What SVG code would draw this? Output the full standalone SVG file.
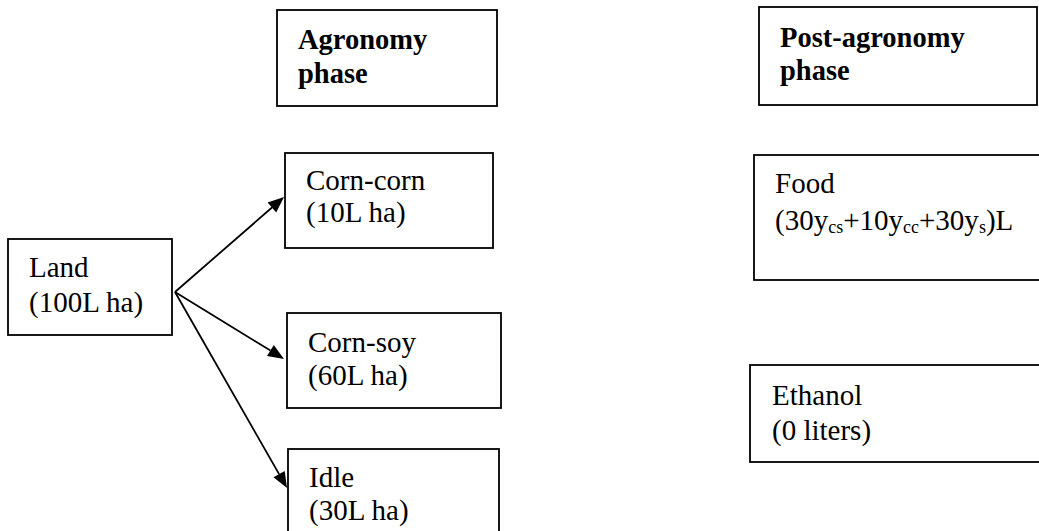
<svg xmlns="http://www.w3.org/2000/svg" width="1039" height="531" viewBox="0 0 1039 531">
  <style>
    .box { fill: #ffffff; stroke: #000000; stroke-width: 1.8; }
    .t { font-family: "Liberation Serif", "Times New Roman", serif; font-size: 29px; fill: #000000; }
    .b { font-family: "Liberation Serif", "Times New Roman", serif; font-size: 28.5px; font-weight: bold; fill: #000000; }
    .sub { font-size: 18px; }
    .conn { stroke: #000000; stroke-width: 1.8; fill: none; }
    .head { fill: #000000; stroke: none; }
  </style>
  <rect width="1039" height="531" fill="#ffffff"/>

  <g id="agronomy">
    <rect class="box" x="277" y="10" width="220" height="96"/>
    <text class="b" x="298" y="49">Agronomy</text>
    <text class="b" x="298" y="83">phase</text>
  </g>

  <g id="post-agronomy">
    <rect class="box" x="759" y="7" width="278" height="98"/>
    <text class="b" x="780" y="47">Post-agronomy</text>
    <text class="b" x="780" y="80">phase</text>
  </g>

  <g id="land">
    <rect class="box" x="8" y="239" width="164" height="96"/>
    <text class="t" x="29" y="277">Land</text>
    <text class="t" x="29" y="312">(100L ha)</text>
  </g>

  <g id="corn-corn">
    <rect class="box" x="285" y="153" width="208" height="95"/>
    <text class="t" x="306" y="190">Corn-corn</text>
    <text class="t" x="306" y="222">(10L ha)</text>
  </g>

  <g id="corn-soy">
    <rect class="box" x="287" y="313" width="214" height="95"/>
    <text class="t" x="308" y="352">Corn-soy</text>
    <text class="t" x="308" y="385">(60L ha)</text>
  </g>

  <g id="idle">
    <rect class="box" x="288" y="449" width="211" height="100"/>
    <text class="t" x="309" y="487">Idle</text>
    <text class="t" x="309" y="520">(30L ha)</text>
  </g>

  <g id="food">
    <rect class="box" x="754" y="155" width="300" height="125"/>
    <text class="t" x="775" y="193">Food</text>
    <text class="t" x="775" y="230">(30y<tspan class="sub" dy="3">cs</tspan><tspan dy="-3">+10y</tspan><tspan class="sub" dy="3">cc</tspan><tspan dy="-3">+30y</tspan><tspan class="sub" dy="3">s</tspan><tspan dy="-3">)L</tspan></text>
  </g>

  <g id="ethanol">
    <rect class="box" x="750" y="365" width="300" height="97"/>
    <text class="t" x="772" y="405">Ethanol</text>
    <text class="t" x="772" y="440">(0 liters)</text>
  </g>

  <g id="connectors">
    <line class="conn" x1="175" y1="292" x2="272" y2="207.5"/>
    <polygon class="head" points="284,197 276.2,212.4 267.6,202.6"/>
    <line class="conn" x1="175" y1="292" x2="270.4" y2="350.6"/>
    <polygon class="head" points="284,359 267,356.1 273.8,345.1"/>
    <line class="conn" x1="175" y1="292" x2="279.1" y2="474.1"/>
    <polygon class="head" points="287,488 273.5,477.3 284.7,470.9"/>
  </g>
</svg>
